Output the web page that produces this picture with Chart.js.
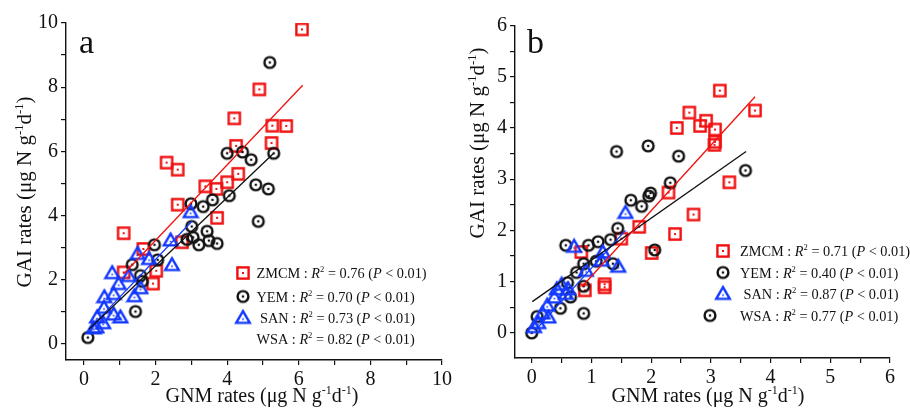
<!DOCTYPE html>
<html>
<head>
<meta charset="utf-8">
<script src="https://cdn.jsdelivr.net/npm/chart.js@4.4.1/dist/chart.umd.min.js"></script>
<style>
  html, body { margin: 0; padding: 0; background: #fff; }
  #wrap { position: relative; width: 910px; height: 408px; }
  #wrap canvas { position: absolute; left: 0; top: 0; }
</style>
</head>
<body>
<div id="wrap">
  <canvas id="chartA" width="910" height="408"></canvas>
  <canvas id="chartB" width="910" height="408"></canvas>
</div>
<script>
// ---- panel a : [GNM, GAI] pairs ----
const zmcmA = [[6.09,9.80],[4.90,7.93],[4.20,7.03],[5.26,6.80],[5.65,6.79],[4.25,6.17],[5.24,6.26],
  [2.31,5.65],[2.62,5.43],[4.31,5.30],[4.00,5.04],[3.39,4.91],[3.70,4.83],[2.62,4.34],[3.72,3.93],
  [1.11,3.45],[2.74,3.17],[1.66,2.96],[2.02,2.28],[1.93,1.88],[1.11,2.23]];
const yemA = [[5.19,8.77],[4.00,5.94],[4.43,5.98],[4.67,5.74],[5.30,5.94],[4.80,4.96],[5.15,4.83],
  [4.06,4.62],[3.59,4.49],[3.33,4.28],[2.99,4.37],[4.87,3.82],[3.01,3.66],[3.44,3.51],[3.05,3.32],
  [2.88,3.26],[3.21,3.09],[3.49,3.22],[3.72,3.13],[1.97,3.09],[2.06,2.62],[1.35,2.47],[1.58,2.13],
  [1.63,1.95],[1.44,1.01],[0.11,0.20]];
const sanA = [[2.98,4.12],[2.42,3.24],[2.46,2.47],[1.82,2.66],[1.50,2.82],[0.79,2.22],[1.25,2.13],
  [1.58,1.75],[0.97,1.88],[0.83,1.57],[1.41,1.50],[0.57,1.47],[0.56,1.14],[1.02,0.84],[0.83,0.93],
  [0.37,0.84],[0.54,0.66],[0.35,0.53],[0.27,0.50]];
const zmcmFitA = [[1.11,2.18],[6.11,8.06]];
const yemFitA = [[0.14,0.46],[5.30,5.94]];
const sanFitA = [[0.18,0.50],[3.03,3.84]];
const r2A = ['0.76','0.70','0.73','0.82'];

// ---- panel b ----
const zmcmB = [[3.15,4.73],[3.74,4.34],[2.64,4.30],[2.92,4.14],[2.43,4.00],[2.82,4.04],[3.07,3.97],
  [3.07,3.73],[3.06,3.67],[3.31,2.94],[2.29,2.74],[2.71,2.31],[1.80,2.07],[2.40,1.93],[1.50,1.84],
  [2.01,1.56],[0.83,1.58],[1.22,0.95],[1.22,0.89],[0.89,0.83]];
const yemB = [[1.42,3.54],[1.95,3.65],[2.46,3.45],[3.58,3.17],[2.32,2.93],[1.99,2.73],[1.96,2.67],
  [1.66,2.59],[1.84,2.47],[1.44,2.04],[1.32,1.82],[1.11,1.78],[0.95,1.71],[0.57,1.71],[2.06,1.62],
  [0.87,1.35],[1.08,1.40],[1.36,1.35],[0.75,1.18],[0.60,0.98],[0.87,0.91],[0.65,0.70],[0.48,0.48],
  [0.87,0.38],[0.09,0.32],[0.00,0.00]];
const sanB = [[1.57,2.35],[0.71,1.69],[1.19,1.58],[1.17,1.42],[1.45,1.30],[0.91,1.22],[0.61,0.86],
  [0.57,0.77],[0.42,0.86],[0.38,0.70],[0.26,0.54],[0.18,0.39],[0.28,0.31],[0.11,0.20],[0.04,0.12],
  [0.50,0.95]];
const zmcmFitB = [[0.84,0.90],[3.74,4.61]];
const yemFitB = [[0.01,0.61],[3.59,3.54]];
const sanFitB = [[0.06,0.05],[1.57,2.00]];
const r2B = ['0.71','0.40','0.87','0.77'];

const legendNames = ['ZMCM', 'YEM', ' SAN', 'WSA'];

const RED = '#f01010', BLUE = '#1238ff', BLACK = '#111111';
const SERIF = '"Liberation Serif", "Times New Roman", serif';

function markerCanvas(kind, color) {
  const c = document.createElement('canvas');
  c.width = 18; c.height = 18;
  const g = c.getContext('2d');
  g.strokeStyle = color; g.fillStyle = color; g.lineWidth = 2.4;
  if (kind === 'square') {
    g.strokeRect(3.4, 3.4, 11.2, 11.2);
    g.fillRect(8, 8, 2, 2);
  } else if (kind === 'circle') {
    g.beginPath(); g.arc(9, 9, 5.4, 0, Math.PI * 2); g.stroke();
    g.beginPath(); g.arc(9, 9, 1.3, 0, Math.PI * 2); g.fill();
  } else {
    g.lineJoin = 'miter';
    g.beginPath(); g.moveTo(9, 2.6); g.lineTo(15.8, 14.4); g.lineTo(2.2, 14.4); g.closePath(); g.stroke();
    g.fillRect(8.2, 9.8, 1.6, 1.6);
  }
  return c;
}
const mkSquare = markerCanvas('square', RED);
const mkCircle = markerCanvas('circle', BLACK);
const mkTri = markerCanvas('tri', BLUE);

const pts = arr => arr.map(p => ({ x: p[0], y: p[1] }));

function fitSet(arr, color) {
  return { type: 'line', data: pts(arr), borderColor: color, borderWidth: 1.3,
    pointRadius: 0, showLine: true, fill: false, tension: 0 };
}
function ptSet(arr, style) {
  return { type: 'scatter', data: pts(arr), pointStyle: style, pointRadius: 6, showLine: false };
}

// rich text helpers
function font(s, size) { return (s.it ? 'italic ' : '') + (s.sup ? size * 0.6 : size) + 'px ' + SERIF; }
function richWidth(ctx, segs, size) {
  let w = 0;
  segs.forEach(s => { ctx.font = font(s, size); w += ctx.measureText(s.t).width; });
  return w;
}
function drawRich(ctx, segs, x, y, size) {
  let cx = x;
  segs.forEach(s => {
    ctx.font = font(s, size);
    ctx.fillText(s.t, cx, s.sup ? y - size * 0.4 : y);
    cx += ctx.measureText(s.t).width;
  });
}
const T = t => ({ t }), I = t => ({ t, it: true }), S = t => ({ t, sup: true });
const unit = [T(' rates (\u03bcg N g'), S('-1'), T('d'), S('-1'), T(')')];
const xTitle = [T('GNM')].concat(unit);
const yTitle = [T('GAI')].concat(unit);
const legendSegs = (name, r2) => [T(name + ' : '), I('R'), S('2'), T(' = ' + r2 + ' ('), I('P'), T(' < 0.01)')];

function decoPlugin(d) {
  return {
    id: 'deco',
    afterDraw(chart) {
      const ctx = chart.ctx;
      ctx.save();
      ctx.fillStyle = BLACK; ctx.textAlign = 'left'; ctx.textBaseline = 'alphabetic';
      ctx.font = '34px ' + SERIF;
      ctx.fillText(d.letter, d.letterX, d.letterY);
      const wx = richWidth(ctx, xTitle, 20);
      drawRich(ctx, xTitle, d.xTitleX - wx / 2, d.xTitleY, 20);
      ctx.save();
      ctx.translate(d.yTitleX, d.yTitleY);
      ctx.rotate(-Math.PI / 2);
      const wy = richWidth(ctx, yTitle, 21);
      drawRich(ctx, yTitle, -wy / 2, 0, 21);
      ctx.restore();
      d.legend.forEach((row, i) => {
        if (row.marker) ctx.drawImage(row.marker, row.mx - 9, row.y - 9);
        drawRich(ctx, legendSegs(legendNames[i], d.r2[i]), d.textX, row.y + 5, 14.3);
      });
      ctx.restore();
    }
  };
}

function makeChart(id, c) {
  const tickLabel = every => v => (Math.abs(v / every - Math.round(v / every)) < 1e-6 ? String(Math.round(v)) : '');
  const axis = (min, max, step, every, extra) => Object.assign({
    type: 'linear', min, max,
    border: { display: true, color: BLACK, width: 1.4 },
    grid: { drawOnChartArea: false, drawTicks: true, tickLength: 5, color: BLACK, lineWidth: 1.2 },
    ticks: { stepSize: step, includeBounds: false, autoSkip: false, maxRotation: 0,
      color: BLACK, font: { family: SERIF, size: 20 }, padding: 3, callback: tickLabel(every) }
  }, extra);
  return new Chart(document.getElementById(id), {
    type: 'scatter',
    data: { datasets: c.datasets },
    options: {
      responsive: false, animation: false, events: [],
      layout: { padding: c.pad },
      plugins: { legend: { display: false }, tooltip: { enabled: false } },
      scales: {
        x: axis(c.x[0], c.x[1], c.x[2], c.x[3], { afterFit: s => { s.height = c.xH; } }),
        y: axis(c.y[0], c.y[1], c.y[2], c.y[3], { afterFit: s => { s.width = c.yW; } })
      }
    },
    plugins: [decoPlugin(c.deco)]
  });
}

makeChart('chartA', {
  x: [-0.5, 10, 1, 2], y: [-0.5, 10, 1, 2],
  pad: { left: 0, top: 23, right: 468, bottom: 0 }, yW: 66, xH: 48,
  datasets: [fitSet(zmcmFitA, RED), fitSet(yemFitA, BLACK), fitSet(sanFitA, BLUE),
    ptSet(sanA, mkTri), ptSet(yemA, mkCircle), ptSet(zmcmA, mkSquare)],
  deco: { letter: 'a', letterX: 79, letterY: 53, xTitleX: 262, xTitleY: 402, yTitleX: 31, yTitleY: 192,
    textX: 256.5, r2: r2A,
    legend: [{ marker: mkSquare, mx: 243, y: 273 }, { marker: mkCircle, mx: 243, y: 296.5 },
      { marker: mkTri, mx: 243, y: 317.5 }, { marker: null, mx: 243, y: 338.5 }] }
});

makeChart('chartB', {
  x: [-0.28, 6, 0.5, 1], y: [-0.49, 6, 0.5, 1],
  pad: { left: 0, top: 25.5, right: 20, bottom: 0 }, yW: 515, xH: 50,
  datasets: [fitSet(zmcmFitB, RED), fitSet(yemFitB, BLACK), fitSet(sanFitB, BLUE),
    ptSet(sanB, mkTri), ptSet(yemB, mkCircle), ptSet(zmcmB, mkSquare)],
  deco: { letter: 'b', letterX: 527, letterY: 53, xTitleX: 708, xTitleY: 402, yTitleX: 484, yTitleY: 143,
    textX: 740, r2: r2B,
    legend: [{ marker: mkSquare, mx: 723, y: 251 }, { marker: mkCircle, mx: 723, y: 272.5 },
      { marker: mkTri, mx: 723, y: 293.5 }, { marker: mkCircle, mx: 710, y: 315.5 }] }
});
</script>
</body>
</html>
